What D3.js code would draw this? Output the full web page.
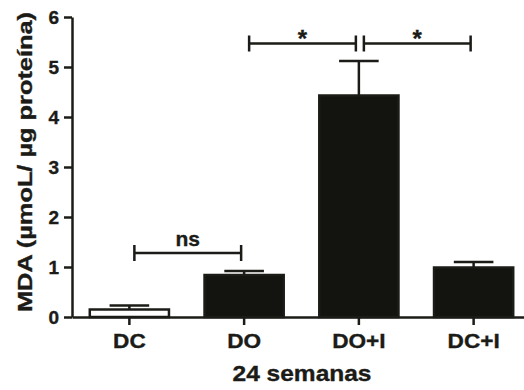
<!DOCTYPE html>
<html>
<head>
<meta charset="utf-8">
<script src="https://cdn.jsdelivr.net/npm/d3@7"></script>
<style>
  body { margin: 0; background: #fff; }
  svg { display: block; font-family: "Liberation Sans", Arial, sans-serif; font-weight: bold; }
  text { stroke: #1b1b17; stroke-width: 0.35px; }
</style>
</head>
<body>
<svg id="chart" width="524" height="390"></svg>
<script>
// data
const categories = ["DC", "DO", "DO+I", "DC+I"];
const means = [0.15, 0.84, 4.43, 0.99];
const sems = [0.08, 0.08, 0.69, 0.11];
const fills = ["#ffffff", "#13130f", "#13130f", "#13130f"];
const yTicks = [0, 1, 2, 3, 4, 5, 6];
const brackets = [
  { a: "DC", b: "DO", y: 1.28, label: "ns" },
  { a: "DO", b: "DO+I", y: 5.47, label: "*" },
  { a: "DO+I", b: "DC+I", y: 5.47, label: "*" }
];
const yTitle = "MDA (\u00b5moL/ \u00b5g prote\u00edna)";
const xTitle = "24 semanas";

const ink = "#1b1b17";
const svg = d3.select("#chart");

const x = d3.scaleBand().domain(categories).range([72, 531]).paddingInner(0.31).paddingOuter(0.155);
const y = d3.scaleLinear().domain([0, 6]).range([317, 17]);
const cx = (c) => x(c) + x.bandwidth() / 2;

// bars
svg.append("g")
  .selectAll("rect")
  .data(categories)
  .join("rect")
  .attr("x", (d) => x(d))
  .attr("width", x.bandwidth())
  .attr("y", (d, i) => y(means[i]))
  .attr("height", (d, i) => y(0) - y(means[i]))
  .attr("fill", (d, i) => fills[i])
  .attr("stroke", ink)
  .attr("stroke-width", 2.5);

// error bars (upper only, as in the figure)
const err = svg.append("g").attr("stroke", ink).attr("stroke-width", 2.5);
categories.forEach((c, i) => {
  const hi = y(means[i] + sems[i]);
  const half = x.bandwidth() / 4;
  err.append("line").attr("x1", cx(c)).attr("x2", cx(c)).attr("y1", y(means[i])).attr("y2", hi);
  err.append("line").attr("x1", cx(c) - half).attr("x2", cx(c) + half).attr("y1", hi).attr("y2", hi);
});

// axes
const yAxis = svg.append("g")
  .attr("transform", "translate(72,0)")
  .call(d3.axisLeft(y).tickValues(yTicks).tickFormat(d3.format("d")).tickSize(8).tickSizeOuter(0).tickPadding(5));
const xAxis = svg.append("g")
  .attr("transform", "translate(0,317)")
  .call(d3.axisBottom(x).tickSize(8).tickSizeOuter(0).tickPadding(4));

[yAxis, xAxis].forEach((g) => {
  g.selectAll("path, line").attr("stroke", ink).attr("stroke-width", 2.5);
  g.selectAll("text").attr("fill", ink).attr("font-family", null);
});
yAxis.selectAll("text").attr("font-size", 19).attr("dy", "0.36em");
xAxis.selectAll("text").attr("font-size", 20).attr("y", 31).attr("dy", 0)
  .each(function () {
    const len = this.getComputedTextLength();
    d3.select(this).attr("textLength", len * 1.13).attr("lengthAdjust", "spacingAndGlyphs");
  });

// significance brackets
const br = svg.append("g");
brackets.forEach((b) => {
  const x1 = cx(b.a) + 5, x2 = cx(b.b) - 3, yy = y(b.y);
  br.append("path")
    .attr("d", `M${x1},${yy - 8}V${yy + 8}M${x1},${yy}H${x2}M${x2},${yy - 8}V${yy + 8}`)
    .attr("fill", "none").attr("stroke", ink).attr("stroke-width", 2.5);
  const star = b.label === "*";
  br.append("text")
    .attr("x", (x1 + x2) / 2)
    .attr("y", star ? yy + 3 : yy - 7)
    .attr("text-anchor", "middle")
    .attr("font-size", star ? 24 : 21)
    .attr("fill", ink)
    .text(b.label);
});

// titles
svg.append("text")
  .attr("transform", "translate(32,162) rotate(-90)")
  .attr("text-anchor", "middle")
  .attr("font-size", 21)
  .attr("textLength", 300)
  .attr("lengthAdjust", "spacingAndGlyphs")
  .attr("fill", ink)
  .text(yTitle);

svg.append("text")
  .attr("x", 302)
  .attr("y", 381)
  .attr("text-anchor", "middle")
  .attr("font-size", 22)
  .attr("textLength", 139)
  .attr("lengthAdjust", "spacingAndGlyphs")
  .attr("fill", ink)
  .text(xTitle);
</script>
</body>
</html>
